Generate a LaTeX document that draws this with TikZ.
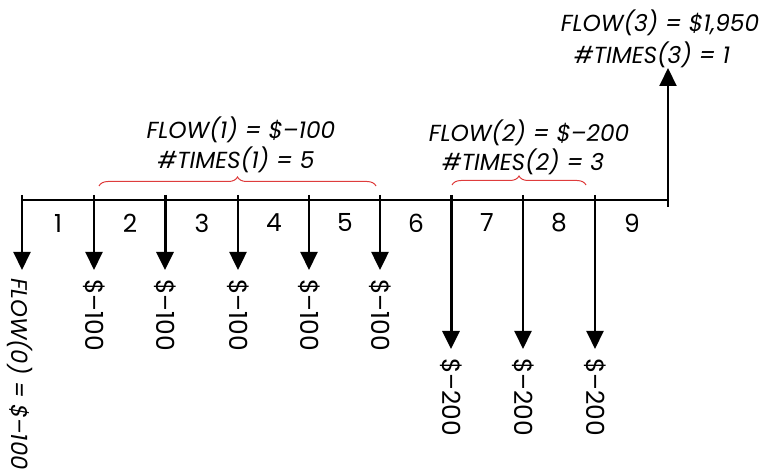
\documentclass[tikz,border=0pt]{standalone}
\usepackage{fontspec}
\setmainfont{Poppins}
\usetikzlibrary{arrows.meta,decorations.pathreplacing}
\definecolor{bracered}{RGB}{222,60,60}
\tikzset{
  flowarrow/.style={line width=2bp,-{Triangle[width=17bp,length=18bp]}},
  thickarrow/.style={flowarrow,line width=3bp},
  amount/.style={rotate=-90,anchor=west,inner sep=0pt,font=\fontsize{25}{28}\selectfont},
  period/.style={inner sep=0pt,font=\fontsize{25}{28}\selectfont},
  flowlabel/.style={inner sep=0pt,align=center,font=\fontsize{23.3}{27}\selectfont\itshape},
  redbrace/.style={draw=bracered,line width=1bp,decorate,decoration={brace,amplitude=9bp,aspect=0.5}},
}
\begin{document}
\begin{tikzpicture}[x=1bp,y=-1bp]
\useasboundingbox (0,0) rectangle (761,472);
% tick points on the timeline
\foreach \n/\x in {0/22,1/94,2/165,3/238,4/309,5/380,6/451,7/523,8/595,9/668}{
  \coordinate (t\n) at (\x,195);
}
\coordinate (lineL) at (22,200);
\coordinate (lineR) at (668,200);
\draw[line width=1.6bp] (lineL) -- (lineR);
% down arrows
\coordinate (e0) at (22,270);
\coordinate (e1) at (94,270);
\coordinate (e2) at (165,270);
\coordinate (e3) at (238,270);
\coordinate (e4) at (309,270);
\coordinate (e5) at (380,270);
\coordinate (e6) at (451,349);
\coordinate (e7) at (523,349);
\coordinate (e8) at (595,349);
\draw[flowarrow] (t0) -- (e0);
\draw[flowarrow] (t1) -- (e1);
\draw[thickarrow] (t2) -- (e2);
\draw[flowarrow,line width=2.5bp] (t3) -- (e3);
\draw[flowarrow] (t4) -- (e4);
\draw[flowarrow,line width=2.5bp] (t5) -- (e5);
\draw[thickarrow] (t6) -- (e6);
\draw[flowarrow] (t7) -- (e7);
\draw[flowarrow] (t8) -- (e8);
% up arrow
\coordinate (u0) at (668,207);
\coordinate (u1) at (668,68);
\draw[flowarrow] (u0) -- (u1);
% period numbers
\foreach \n/\x in {1/58,2/130,3/202,4/274,5/345,6/416,7/487,8/559,9/632}{
  \node[period] (p\n) at (\x,223) {\n};
}
% amounts
\node[amount,font=\fontsize{22.8}{26}\selectfont\itshape] (a0) at (20,278) {FLOW(0) = \$–100};
\node[amount] (a1) at (94,279) {\$–100};
\node[amount] (a2) at (165,279) {\$–100};
\node[amount] (a3) at (238,279) {\$–100};
\node[amount] (a4) at (309,279) {\$–100};
\node[amount] (a5) at (380,279) {\$–100};
\node[amount] (a6) at (451,358) {\$–200};
\node[amount] (a7) at (523,358) {\$–200};
\node[amount] (a8) at (595,358) {\$–200};
% braces
\draw[redbrace] (99,186) -- (376,186);
\draw[redbrace] (452,185) -- (586,185);
% flow labels
\node[flowlabel] (f1) at (241,130) {FLOW(1) = \$–100};
\node[flowlabel] (n1) at (236,160) {\#TIMES(1) = 5};
\node[flowlabel] (f2) at (529,133) {FLOW(2) = \$–200};
\node[flowlabel] (n2) at (523,162) {\#TIMES(2) = 3};
\node[flowlabel] (f3) at (660,23) {FLOW(3) = \$1,950};
\node[flowlabel] (n3) at (652,55) {\#TIMES(3) = 1};
\end{tikzpicture}
\end{document}
